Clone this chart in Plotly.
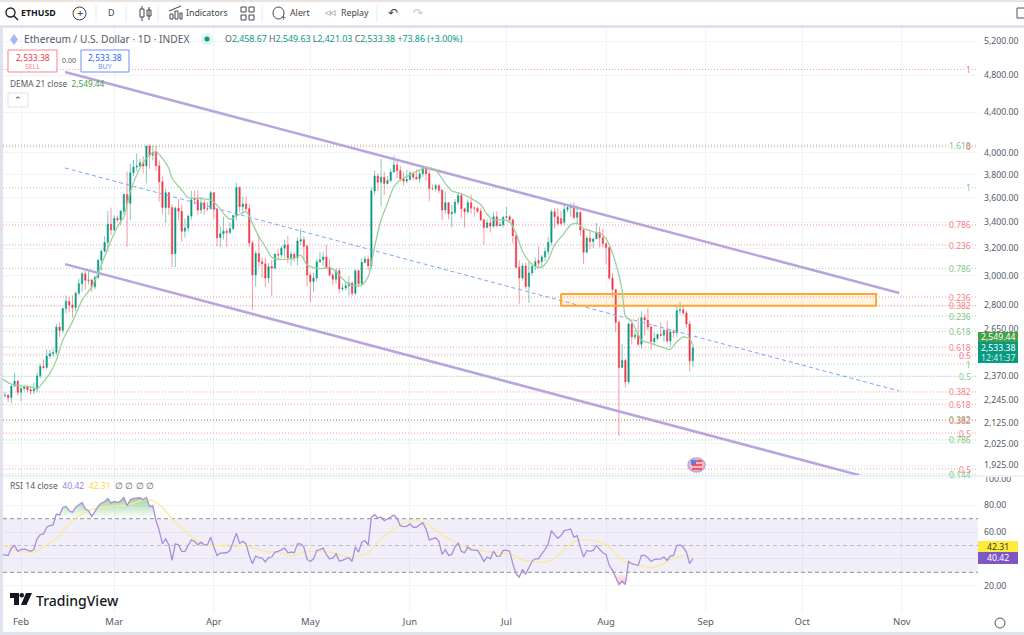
import numpy as np
import pandas as pd
import plotly.graph_objects as go

FONT = "Noto Sans"
UP = "#089981"
DOWN = "#f23645"
GREY = "#555b66"
GRID = "#f0f3fa"

# daily candles (26 Jan - 28 Aug)
dates = pd.date_range("2024-01-26", "2024-08-28")
open_ = [2250,2267,2268,2255,2317,2343,
    2283,2304,2312,2297,2290,2299,2373,2425,2420,2486,2500,2507,2660,2640,2778,2825,2802,2785,2880,2945,3014,2968,2970,2923,2990,3112,3178,3243,3385,
    3340,3433,3420,3490,3630,3555,3820,3870,3880,3910,3880,4065,3980,4005,3882,3740,3520,3645,3520,3158,3515,3490,3330,3355,3450,3590,3585,3500,3560,3510,3510,
    3645,3505,3280,3310,3330,3320,3350,3455,3690,3527,3550,3510,3240,3005,3160,3100,3085,2985,3065,3055,3155,3150,3200,3225,3130,3155,3130,3255,3265,3215,
    3005,2960,2985,3100,3115,3135,3060,3005,2975,3035,2910,2915,2930,2950,2880,3035,2945,3095,3120,3070,3660,3790,3735,3780,3725,3750,3825,3890,3840,3765,3745,
    3760,3815,3780,3765,3810,3865,3810,3680,3680,3705,3665,3500,3560,3470,3480,3565,3620,3510,3485,3560,3515,3515,3490,3420,3360,3395,3370,3445,3375,3380,
    3440,3445,3420,3295,3060,2985,3070,2925,3020,3065,3110,3100,3135,3175,3245,3485,3445,3430,3400,3505,3520,3535,3440,3480,3340,3170,3275,3250,3270,3320,3280,
    3235,3205,2985,2905,2690,2420,2460,2340,2680,2600,2610,2555,2720,2705,2660,2570,2590,2615,2610,2640,2575,2630,2625,2765,2770,2750,2680,2458.67]
high = [2280,2285,2275,2320,2390,2350,
    2310,2325,2325,2315,2335,2390,2440,2465,2525,2525,2535,2680,2690,2785,2865,2855,2865,2890,2980,3030,3035,3035,2980,3000,3120,3190,3290,3490,3520,
    3455,3455,3500,3640,3830,3900,3935,3995,3945,3970,4070,4080,4072,4072,3930,3785,3680,3650,3545,3530,3590,3545,3430,3460,3660,3665,3665,3610,3585,3565,3660,
    3650,3510,3370,3445,3350,3395,3460,3730,3700,3610,3610,3550,3260,3180,3300,3130,3130,3090,3115,3165,3195,3215,3265,3295,3180,3170,3285,3350,3290,3225,
    3025,3020,3120,3175,3170,3225,3125,3020,3055,3055,2945,2955,2995,2960,3045,3045,3125,3145,3145,3690,3840,3815,3945,3830,3790,3855,3975,3930,3880,3825,3845,
    3835,3830,3850,3830,3885,3870,3840,3715,3720,3720,3680,3655,3565,3540,3590,3650,3645,3520,3590,3630,3530,3525,3515,3430,3425,3430,3485,3490,3405,3450,
    3525,3460,3430,3305,3110,3090,3095,3100,3090,3130,3215,3150,3205,3285,3505,3515,3515,3490,3545,3540,3560,3565,3540,3490,3350,3295,3330,3280,3395,3365,3350,
    3240,3215,3020,2905,2700,2558,2470,2690,2710,2640,2720,2760,2740,2780,2680,2630,2620,2690,2645,2700,2640,2645,2800,2820,2795,2765,2700,2549.63]
low = [2235,2255,2230,2225,2310,2265,
    2235,2290,2285,2270,2275,2285,2360,2410,2410,2470,2480,2490,2600,2620,2745,2755,2720,2760,2865,2890,2905,2940,2890,2905,2975,3035,3170,3175,3300,
    3330,3400,3380,3465,3210,3420,3790,3830,3870,3815,3725,3855,3930,3840,3570,3465,3395,3460,3060,3060,3415,3250,3280,3325,3420,3545,3460,3470,3460,3490,3505,
    3425,3215,3210,3265,3210,3305,3340,3415,3480,3470,3480,3210,2770,2925,3060,2985,2920,2950,2860,3045,3110,3130,3130,3090,3070,3100,3075,3225,3120,2925,
    2820,2890,2960,3090,3070,3045,2995,2935,2945,2880,2895,2900,2865,2860,2865,2925,2930,3090,3040,3050,3630,3660,3530,3625,3715,3735,3820,3770,3740,3705,3725,
    3755,3755,3755,3730,3780,3750,3570,3665,3655,3640,3415,3465,3425,3360,3465,3540,3435,3360,3470,3470,3445,3475,3410,3225,3350,3320,3355,3360,3370,3360,
    3425,3400,3235,3050,2810,2965,2910,2815,3000,3040,3050,3060,3105,3150,3220,3350,3375,3375,3375,3480,3445,3425,3395,3295,3085,3160,3195,3200,3270,3205,3205,
    3080,2975,2855,2630,2060,2415,2310,2325,2555,2585,2545,2530,2610,2640,2520,2550,2580,2600,2570,2560,2540,2595,2600,2740,2735,2655,2398,2421.03]
close = [2267,2268,2255,2317,2343,2283,
    2304,2312,2297,2290,2299,2373,2425,2420,2486,2500,2507,2660,2640,2778,2825,2802,2785,2880,2945,3014,2968,2970,2923,2990,3112,3178,3243,3385,3340,
    3433,3420,3490,3630,3555,3820,3870,3880,3910,3880,4065,3980,4005,3882,3740,3520,3645,3520,3158,3515,3490,3330,3355,3450,3585,3585,3500,3560,3510,3510,3645,
    3505,3280,3310,3330,3320,3350,3455,3690,3527,3550,3510,3240,3005,3160,3100,3085,2985,3065,3055,3155,3150,3200,3225,3130,3155,3130,3255,3265,3215,3005,
    2960,2985,3100,3115,3135,3060,3005,2975,3035,2910,2915,2930,2950,2880,3035,2945,3095,3120,3070,3660,3790,3735,3780,3725,3750,3825,3890,3840,3765,3745,3760,
    3815,3780,3765,3810,3865,3810,3680,3680,3705,3665,3500,3560,3470,3480,3565,3620,3510,3485,3560,3515,3515,3490,3420,3360,3395,3370,3445,3375,3380,3440,
    3445,3420,3295,3060,2985,3070,2925,3020,3065,3100,3090,3135,3175,3245,3485,3445,3390,3390,3505,3520,3535,3440,3480,3340,3170,3275,3250,3270,3320,3280,3235,
    3205,2985,2905,2690,2420,2460,2340,2680,2600,2610,2555,2720,2705,2660,2570,2590,2615,2610,2640,2575,2630,2625,2765,2770,2750,2680,2458,2533.38]

# RSI 14, one value per candle
rsi = [43.3,43.1,42.6,48,50,45.6,
    47,47.5,46.3,45.6,47,55,58.1,58.6,63.6,64.8,65.3,73.5,72.7,78.4,79.1,75.9,74.7,78.4,80.4,82.1,77.2,75.9,71.7,75.9,79.1,81.6,82.6,85.1,81.6,
    82.8,82.1,83.3,85.8,79.6,84.1,85.1,85.6,85.6,84.1,85.8,79.1,79.6,68.5,61.1,51.2,55,50.5,38.9,51.2,50.5,45.6,45.6,50,54.2,53,50.5,52.5,50.5,50.5,56.2,
    48.8,42.6,44.3,44.6,44.6,46.3,52.5,59.1,51.7,53.2,51.2,42.6,36.4,42.1,40.9,40.6,37.7,40.9,41.4,45.1,45.6,47,48,44.6,45.1,44.6,51.2,51.2,48.8,39.6,
    38.1,40.1,46.3,47,48,43.1,40.1,40.6,43.8,38.4,38.9,40.1,40.9,38.1,48.8,45.1,52.5,53.7,50.5,71,73,70.5,71.2,68.5,69.8,71.2,72.7,70.2,64.8,64.1,64.3,
    66.1,63.6,63.6,65.6,66.8,62.3,54.2,54.7,55.7,53.2,43.3,47,42.6,43.3,48.8,51.7,45.6,44.6,48.8,46.8,46.8,46.3,42.6,38.1,41.4,40.1,45.8,41.9,42.1,46.3,
    46.5,45.6,36.4,29,26.3,32.2,28.5,34,38.4,40.1,40.1,43.8,47,51.2,61.1,57.9,55.4,57.4,61.1,61.6,62.3,56.2,57.4,48.8,41.4,46.3,45.6,46.3,50,47,44.6,
    43.3,35.2,31.5,26.5,20.9,23.3,20.9,38.1,36.4,35.7,35.2,42.6,42.6,40.9,38.1,39.6,40.1,40.1,41.4,38.9,42.1,42.6,50,50.5,48.8,45.1,36.4,40.42]

# RSI moving average, read at the points where the curve bends
rsi_ma_dates = ["2024-01-26","2024-01-31","2024-02-05","2024-02-08","2024-02-12","2024-02-15","2024-02-19","2024-02-23","2024-02-26","2024-03-01",
    "2024-03-05","2024-03-09","2024-03-12","2024-03-14","2024-03-16","2024-03-19","2024-03-23","2024-03-26","2024-03-29","2024-04-02","2024-04-07",
    "2024-04-11","2024-04-14","2024-04-17","2024-04-22","2024-04-26","2024-04-29","2024-05-03","2024-05-08","2024-05-13","2024-05-19","2024-05-22",
    "2024-05-27","2024-05-30","2024-06-02","2024-06-06","2024-06-09","2024-06-13","2024-06-18","2024-06-24","2024-06-29","2024-07-02","2024-07-05",
    "2024-07-09","2024-07-14","2024-07-17","2024-07-20","2024-07-23","2024-07-27","2024-08-01","2024-08-04","2024-08-07","2024-08-11","2024-08-15",
    "2024-08-18","2024-08-21","2024-08-25","2024-08-28"]
rsi_ma = [50.7,46.3,45.1,48.8,55,63.6,72.2,76.7,78.4,79.6,80.1,83.3,84.1,82.1,78.4,69.8,61.1,54.4,50.5,50,49.5,50,47.5,45.6,44.3,42.3,45.1,45.6,44.6,41.4,
    44.3,52.5,62.3,66.8,68.5,66.8,61.1,55,49.2,45.6,44.3,43.8,40.1,38.1,38.1,42.6,49.5,53.7,54.2,50.7,43.8,37.7,35.2,33.5,35.2,39.6,42.6,42.31]

# DEMA 21, read at the points where the curve bends
dema_dates = ["2024-01-26","2024-01-29","2024-02-01","2024-02-04","2024-02-06","2024-02-08","2024-02-10","2024-02-12","2024-02-14","2024-02-17","2024-02-20",
    "2024-02-23","2024-02-25","2024-02-28","2024-03-02","2024-03-04","2024-03-06","2024-03-09","2024-03-11","2024-03-13","2024-03-14","2024-03-16","2024-03-18",
    "2024-03-19","2024-03-22","2024-03-24","2024-03-27","2024-03-31","2024-04-02","2024-04-04","2024-04-06","2024-04-08","2024-04-11","2024-04-13","2024-04-15",
    "2024-04-17","2024-04-19","2024-04-21","2024-04-24","2024-04-26","2024-04-28","2024-04-30","2024-05-02","2024-05-04","2024-05-07","2024-05-09","2024-05-12",
    "2024-05-14","2024-05-17","2024-05-19","2024-05-21","2024-05-23","2024-05-25","2024-05-27","2024-05-29","2024-06-02","2024-06-06","2024-06-09","2024-06-12",
    "2024-06-14","2024-06-17","2024-06-20","2024-06-23","2024-06-25","2024-06-27","2024-06-30","2024-07-02","2024-07-04","2024-07-06","2024-07-08","2024-07-10",
    "2024-07-12","2024-07-14","2024-07-16","2024-07-19","2024-07-21","2024-07-23","2024-07-25","2024-07-28","2024-07-31","2024-08-02","2024-08-04","2024-08-06",
    "2024-08-07","2024-08-09","2024-08-12","2024-08-15","2024-08-19","2024-08-21","2024-08-23","2024-08-25","2024-08-27","2024-08-28"]
dema = [2358,2327,2317,2312,2302,2340,2387,2462,2580,2694,2834,2923,3017,3199,3365,3445,3652,3859,3950,3997,4015,3950,3859,3770,3667,3602,3597,3583,3540,3472,
    3424,3450,3486,3392,3287,3211,3133,3118,3120,3125,3149,3076,3057,3050,3060,3028,2958,2931,2935,2993,3211,3419,3555,3696,3754,3813,3868,3843,3725,3661,3635,
    3597,3545,3465,3420,3420,3405,3315,3175,3105,3065,3060,3115,3225,3315,3380,3392,3352,3326,3300,3225,3090,2901,2730,2693,2580,2560,2534,2524,2570,2600,2590,2549.44]

# fibonacci levels of the drawings, top to bottom
fib_prices = [4864,4075,4060,3687,3379,3224,3051,2854,2795,2730,2635,2538,2491,2439,2371,2285,2220,2141,2137,2075,2042,1907,1885]
fib_labels = ["1","1.618","0","1","0.786","0.236","0.786","0.236","0.382","0.236","0.618","0.618","0.5","1","0.5","0.382","0.618","0.382","0.382","0.5","0.786","0.5","0.144"]
fib_colors = ["r","g","r","g","r","r","g","r","r","g","g","r","r","g","g","r","r","g","r","r","g","r","g"]

# channel drawings
channel_dates = ["2024-02-14 17:00","2024-10-31 05:00"]
channel_top = [4836,2881]
channel_mid = [3862,2290]
channel_low_dates = ["2024-02-14 17:00","2024-10-18 19:00"]
channel_low = [3083,1880]
zone_dates = ["2024-07-18","2024-10-24"]
zone_prices = [2874,2797]

price_ticks = [5200,4800,4400,4000,3800,3600,3400,3200,3000,2800,2650,2500,2370,2245,2125,2025,1925]
price_hidden = [2500]
rsi_ticks = [20,40,60,80,100]
rsi_hidden = [40]
month_ticks = ["2024-02-01","2024-03-01","2024-04-01","2024-05-01","2024-06-01","2024-07-01","2024-08-01","2024-09-01","2024-10-01","2024-11-01"]
month_labels = ["Feb","Mar","Apr","May","Jun","Jul","Aug","Sep","Oct","Nov"]

x_start = pd.Timestamp("2024-02-01") - pd.Timedelta(days=5.6)
x_end = pd.Timestamp("2024-02-01") + pd.Timedelta(days=297.7)
x_range = [x_start, x_end]


def px(x):
    return x / 1024


def py(y):
    return 1 - y / 635


shapes = []
anns = []


def box(x0, y0, x1, y1, fill=None, line=None, width=1, kind="rect", layer="above"):
    shapes.append(dict(type=kind, xref="paper", yref="paper", x0=px(x0), x1=px(x1), y0=py(y0), y1=py(y1),
                       fillcolor=fill or "rgba(0,0,0,0)", line=dict(color=line or "rgba(0,0,0,0)", width=width if line else 0), layer=layer))


def seg(x0, y0, x1, y1, color=GREY, width=1):
    shapes.append(dict(type="line", xref="paper", yref="paper", x0=px(x0), x1=px(x1), y0=py(y0), y1=py(y1),
                       line=dict(color=color, width=width)))


def text(x, y, s, size=9, color=GREY, anchor="left", bold=False, weight=None):
    font = dict(family=FONT, size=size, color=color)
    if weight:
        font["weight"] = weight
    anns.append(dict(xref="paper", yref="paper", x=px(x), y=py(y), text="<b>%s</b>" % s if bold else s, showarrow=False,
                     xanchor=anchor, yanchor="middle", font=font, borderpad=0))


fig = go.Figure()

# RSI band
band_x = [x_start, x_end]
fig.add_trace(go.Scatter(x=band_x, y=[70, 70], xaxis="x2", yaxis="y2", mode="lines", line=dict(color="#8f8f96", width=1, dash="4px,3px")))
fig.add_trace(go.Scatter(x=band_x, y=[30, 30], xaxis="x2", yaxis="y2", mode="lines", line=dict(color="#8f8f96", width=1, dash="4px,3px"),
                         fill="tonexty", fillcolor="rgba(126,87,194,0.1)"))
fig.add_trace(go.Scatter(x=band_x, y=[50, 50], xaxis="x2", yaxis="y2", mode="lines", line=dict(color="#c0c0c6", width=1, dash="4px,3px")))

# over/oversold gradients
rsi_arr = np.array(rsi)
fig.add_trace(go.Scatter(x=dates, y=np.full(len(dates), 70.0), xaxis="x2", yaxis="y2", mode="lines", line=dict(width=0)))
fig.add_trace(go.Scatter(x=dates, y=np.maximum(rsi_arr, 70), xaxis="x2", yaxis="y2", mode="lines", line=dict(width=0), fill="tonexty",
                         fillgradient=dict(type="vertical", start=70, stop=86,
                                           colorscale=[[0, "rgba(76,175,80,0)"], [1, "rgba(76,175,80,0.55)"]])))
fig.add_trace(go.Scatter(x=dates, y=np.full(len(dates), 30.0), xaxis="x2", yaxis="y2", mode="lines", line=dict(width=0)))
fig.add_trace(go.Scatter(x=dates, y=np.minimum(rsi_arr, 30), xaxis="x2", yaxis="y2", mode="lines", line=dict(width=0), fill="tonexty",
                         fillgradient=dict(type="vertical", start=30, stop=20,
                                           colorscale=[[0, "rgba(242,54,69,0)"], [1, "rgba(242,54,69,0.4)"]])))
fig.add_trace(go.Scatter(x=rsi_ma_dates, y=rsi_ma, xaxis="x2", yaxis="y2", mode="lines", line=dict(color="#fde992", width=1.3, shape="spline", smoothing=0.7)))
fig.add_trace(go.Scatter(x=dates, y=rsi, xaxis="x2", yaxis="y2", mode="lines", line=dict(color="#a68fdc", width=1.3)))

# fib levels
for price, lab, col in zip(fib_prices, fib_labels, fib_colors):
    c = "rgba(242,54,69,0.5)" if col == "r" else "rgba(76,175,80,0.5)"
    fig.add_trace(go.Scatter(x=[x_start, x_end], y=[price, price], mode="lines", line=dict(color=c, width=1, dash="1px,2px")))
last_price = None
for price, lab, col in zip(fib_prices, fib_labels, fib_colors):
    overlap = last_price is not None and price / last_price > 0.975
    anns.append(dict(xref="paper", yref="y", x=px(972), y=np.log10(price), text=lab, showarrow=False, xanchor="right", yanchor="middle",
                     font=dict(family=FONT, size=8.5, color="#f77c80" if col == "r" else "#81c784"),
                     bgcolor="rgba(0,0,0,0)" if overlap else "white", borderpad=0))
    last_price = price

# channel and zone drawings
fig.add_trace(go.Scatter(x=channel_dates, y=channel_mid, mode="lines", line=dict(color="#84a0f5", width=1, dash="4px,3px")))
fig.add_trace(go.Scatter(x=channel_dates, y=channel_top, mode="lines", line=dict(color="#b9a5de", width=2.5)))
fig.add_trace(go.Scatter(x=channel_low_dates, y=channel_low, mode="lines", line=dict(color="#b9a5de", width=2.5)))
fig.add_trace(go.Scatter(x=[zone_dates[0], zone_dates[1], zone_dates[1], zone_dates[0], zone_dates[0]],
                         y=[zone_prices[0], zone_prices[0], zone_prices[1], zone_prices[1], zone_prices[0]],
                         mode="lines", fill="toself", fillcolor="rgba(255,152,0,0.13)", line=dict(color="#ffa733", width=2)))

# candles and DEMA
fig.add_trace(go.Candlestick(x=dates, open=open_, high=high, low=low, close=close, whiskerwidth=0,
                             increasing=dict(fillcolor=UP, line=dict(color="rgba(8,153,129,0.5)", width=1)),
                             decreasing=dict(fillcolor=DOWN, line=dict(color="rgba(242,54,69,0.5)", width=1))))
fig.add_trace(go.Scatter(x=dema_dates, y=dema, mode="lines", line=dict(color="#9ccf9c", width=1.3, shape="spline", smoothing=0.6)))

# page frame
box(0, 0, 1024, 2, fill="#ece3de")
box(0, 25, 1024, 28, fill="#e0e3eb")
box(0, 25, 3, 635, fill="#e0e3eb")
box(0, 632, 1024, 635, fill="#e0e3eb")
box(3, 475, 1024, 477, fill="#eef0f5")

# toolbar
box(6, 8, 15, 17, line="#222", width=1.4, kind="circle")
seg(13.5, 15.5, 18, 20, "#222", 1.4)
text(20, 13, "ETHUSD", size=8.8, color="#131722", bold=True)
box(73, 7, 86, 20, line="#444", width=1, kind="circle")
text(79.5, 13, "+", size=11, color="#444", anchor="center")
seg(96, 5, 96, 22, "#e8e8ec")
text(111, 13, "D", size=9, color="#444", anchor="center")
seg(126, 5, 126, 22, "#e8e8ec")
box(140, 9, 144, 17, line="#444")
seg(142, 6, 142, 9, "#444")
seg(142, 17, 142, 21, "#444")
box(147, 10, 151, 16, line="#444")
seg(149, 7, 149, 20, "#444")
seg(158, 5, 158, 22, "#e8e8ec")
box(170, 14, 173, 19, line="#444")
box(175, 11, 178, 19, line="#444")
box(180, 13, 182, 19, line="#444")
seg(169, 11, 181, 6, "#444")
text(185, 13, "Indicators", size=8.8, color="#444")
box(241, 7, 246, 12, line="#444")
box(249, 7, 254, 12, line="#444")
box(241, 15, 246, 20, line="#444")
box(249, 15, 254, 20, line="#444")
seg(262, 5, 262, 22, "#e8e8ec")
box(273, 7, 284, 19, line="#444", kind="circle")
text(283, 17, "+", size=9, color="#444", anchor="center")
text(289, 13, "Alert", size=8.8, color="#444")
text(330, 13, "◁◁", size=7, color="#444", anchor="center")
text(340, 13, "Replay", size=8.8, color="#444")
seg(377, 5, 377, 22, "#e8e8ec")
text(393, 13, "↶", size=12, color="#444", anchor="center")
text(418, 13, "↷", size=12, color="#c8c8c8", anchor="center")
box(1017, 8, 1026, 18, line="#555")

# legend rows
shapes.append(dict(type="path", xref="paper", yref="paper", line=dict(width=0), fillcolor="#a9b6f2",
                   path="M %f %f L %f %f L %f %f L %f %f Z" % (px(14), py(34), px(18), py(39.5), px(14), py(45), px(10), py(39.5))))
text(23, 39.5, "Ethereum / U.S. Dollar · 1D · INDEX", size=10.2, color=GREY)
box(201, 33, 213, 45, fill="#dff3ef", kind="circle")
box(204.5, 36.5, 209.5, 41.5, fill=UP, kind="circle")
ohlc_text = ('<span style="color:%s">O</span>2,458.67 <span style="color:%s">H</span>2,549.63 '
             '<span style="color:%s">L</span>2,421.03 <span style="color:%s">C</span>2,533.38 +73.86 (+3.00%%)') % (GREY, GREY, GREY, GREY)
text(224, 39.5, ohlc_text, size=8.8, color=UP)
box(8, 50, 57, 72, fill="white", line="#f7848d")
text(32.5, 57, "2,533.38", size=8.5, color="#f23645", anchor="center")
text(32.5, 66.5, "SELL", size=7, color="#f7848d", anchor="center")
text(69, 61, "0.00", size=7, color=GREY, anchor="center")
box(81, 50, 129, 72, fill="white", line="#6f8ff5")
text(105, 57, "2,533.38", size=8.5, color="#2962ff", anchor="center")
text(105, 66.5, "BUY", size=7, color="#6f8ff5", anchor="center")
text(9, 84, 'DEMA 21 close  <span style="color:#43a047">2,549.44</span>', size=8.3, color=GREY)
box(8, 93, 28, 107, fill="white", line="#dfe1e6")
text(18, 100, "⌃", size=9, color="#333", anchor="center")
text(9, 486, 'RSI 14 close  <span style="color:#9c82d8">40.42</span>  <span style="color:#fdd835">42.31</span>  ∅ ∅ ∅ ∅', size=8.6, color=GREY)

# earnings flag
box(688, 458, 705, 472, fill="#f9b7bb", line="#b9a5de", width=1.5, kind="circle")
box(692, 460, 702, 462, fill="#f2565f")
box(692, 464, 702, 466, fill="#f2565f")
box(692, 468, 702, 470, fill="#f2565f")
box(691, 460, 696, 465, fill="#5b7fe8")

# tradingview logo
box(10, 593, 19, 598, fill="#131722")
box(14, 593, 19, 605, fill="#131722")
box(19.5, 593, 24, 597.5, fill="#131722", kind="circle")
shapes.append(dict(type="path", xref="paper", yref="paper", line=dict(width=0), fillcolor="#131722",
                   path="M %f %f L %f %f L %f %f L %f %f Z" % (px(26), py(593), px(32), py(593), px(26.5), py(605), px(21), py(605))))
text(35, 600, "TradingView", size=14, color="#131722", weight=500)

# price and RSI badges
box(978, 332, 1018, 342, fill="#43a047")
text(998, 337, "2,549.44", size=8.7, color="white", anchor="center")
box(978, 342, 1018, 363, fill=UP)
text(998, 347.5, "2,533.38", size=8.7, color="white", anchor="center")
text(998, 357.5, "12:41:37", size=8.7, color="#d5f0ea", anchor="center")
box(978, 541, 1018, 552, fill="#ffeb3b")
text(998, 546.5, "42.31", size=8.7, color="#333", anchor="center")
box(978, 552, 1018, 564, fill="#7e57c2")
text(998, 558, "40.42", size=8.7, color="white", anchor="center")
box(995, 618, 1005, 628, line="#555", kind="circle")

fig.update_layout(
    width=1024, height=635, margin=dict(l=0, r=0, t=0, b=0, autoexpand=False), showlegend=False,
    paper_bgcolor="white", plot_bgcolor="white", boxgap=0.4,
    xaxis=dict(domain=[px(3), px(978)], range=x_range, type="date", anchor="y", rangeslider=dict(visible=False),
               tickvals=month_ticks, ticktext=[""] * len(month_ticks), showgrid=True, gridcolor=GRID, gridwidth=1, zeroline=False, ticks=""),
    yaxis=dict(domain=[py(475), py(28)], type="log", range=[np.log10(1881), np.log10(5361)], side="right", anchor="x",
               tickvals=price_ticks, ticktext=["" if t in price_hidden else "{:,.2f}".format(t) for t in price_ticks], showgrid=True, gridcolor=GRID, gridwidth=1,
               zeroline=False, ticks="", ticklabelstandoff=5, tickfont=dict(family=FONT, size=8.7, color=GREY)),
    xaxis2=dict(domain=[px(3), px(978)], range=x_range, type="date", anchor="y2",
                tickvals=month_ticks, ticktext=month_labels, showgrid=True, gridcolor=GRID, gridwidth=1, zeroline=False, ticks="",
                ticklabelstandoff=2, tickfont=dict(family=FONT, size=9.5, color=GREY)),
    yaxis2=dict(domain=[py(612), py(477)], range=[0.4, 101.1], side="right", anchor="x2", tickvals=rsi_ticks,
                ticktext=["" if t in rsi_hidden else "{:.2f}".format(t) for t in rsi_ticks], showgrid=True, gridcolor=GRID, gridwidth=1, zeroline=False, ticks="",
                ticklabelstandoff=5, tickfont=dict(family=FONT, size=8.7, color=GREY)),
    shapes=shapes, annotations=anns,
)

fig.write_html("out.html", config={"displayModeBar": False}, post_script="document.body.style.margin='0';")
